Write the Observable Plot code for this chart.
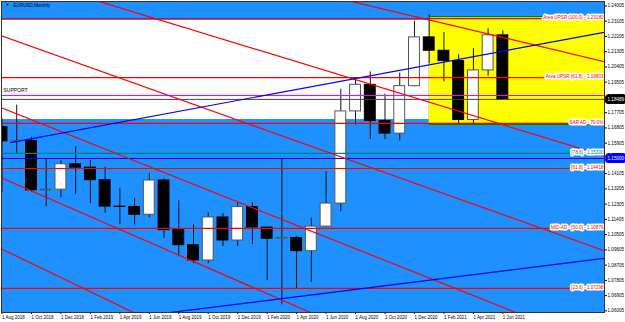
<!DOCTYPE html>
<html><head><meta charset="utf-8">
<script src="https://cdn.jsdelivr.net/npm/d3@7"></script>
<script src="https://cdn.jsdelivr.net/npm/@observablehq/plot@0.6"></script>
<style>
html,body{margin:0;padding:0;background:#fff;}
svg{display:block;}
</style></head><body><div id="chart"></div>
<script>
// ---- data (EURUSD monthly, Aug 2018 .. Jun 2021) ----
const months = ["Aug 2018","Sep 2018","Oct 2018","Nov 2018","Dec 2018","Jan 2019","Feb 2019","Mar 2019","Apr 2019","May 2019","Jun 2019","Jul 2019","Aug 2019","Sep 2019","Oct 2019","Nov 2019","Dec 2019","Jan 2020","Feb 2020","Mar 2020","Apr 2020","May 2020","Jun 2020","Jul 2020","Aug 2020","Sep 2020","Oct 2020","Nov 2020","Dec 2020","Jan 2021","Feb 2021","Mar 2021","Apr 2021","May 2021","Jun 2021"];
const open  = [1.1685,1.1601,1.1604,1.1312,1.1316,1.1466,1.1446,1.1372,1.1216,1.1214,1.1168,1.1370,1.1077,1.0988,1.0898,1.1152,1.1016,1.1213,1.1092,1.1026,1.1031,1.0953,1.1098,1.1234,1.1778,1.1935,1.1721,1.1647,1.1927,1.2215,1.2136,1.2075,1.1727,1.2020,1.2227];
const high  = [1.1733,1.1815,1.1625,1.1500,1.1486,1.1570,1.1488,1.1448,1.1324,1.1265,1.1412,1.1380,1.1250,1.1109,1.1179,1.1175,1.1239,1.1239,1.1095,1.1495,1.1040,1.1147,1.1422,1.1909,1.1966,1.2011,1.1881,1.2004,1.2310,1.2349,1.2243,1.2113,1.2150,1.2266,1.2254];
const low   = [1.1301,1.1526,1.1302,1.1216,1.1268,1.1289,1.1234,1.1176,1.1110,1.1107,1.1150,1.1027,1.0927,1.0879,1.0879,1.0981,1.0981,1.0992,1.0778,1.0636,1.0727,1.0767,1.1093,1.1185,1.1696,1.1612,1.1612,1.1603,1.1924,1.2058,1.1952,1.1704,1.1704,1.1986,1.1845];
const close = [1.1601,1.1604,1.1312,1.1316,1.1466,1.1446,1.1372,1.1216,1.1214,1.1168,1.1370,1.1077,1.0988,1.0898,1.1152,1.1016,1.1213,1.1092,1.1026,1.1031,1.0953,1.1098,1.1234,1.1778,1.1935,1.1721,1.1647,1.1927,1.2215,1.2136,1.2075,1.1727,1.2020,1.2227,1.18489];

const xTickLabels = ["1 Aug 2018","1 Oct 2018","1 Dec 2018","1 Feb 2019","1 Apr 2019","1 Jun 2019","1 Aug 2019","1 Oct 2019","1 Dec 2019","1 Feb 2020","1 Apr 2020","1 Jun 2020","1 Aug 2020","1 Oct 2020","1 Dec 2020","1 Feb 2021","1 Apr 2021","1 Jun 2021"];
const yTickValues = [1.24005,1.23105,1.22205,1.21305,1.20405,1.19505,1.17705,1.16805,1.15905,1.14105,1.13205,1.12305,1.11405,1.10505,1.09605,1.08705,1.07805,1.06905,1.06005];

const title = "EURUSD,Monthly";
const currentPrice = 1.18489;
const roundLevel = 1.15000;

// horizontal levels
const levelPrices = [1.2326, 1.1978, 1.1872, 1.1707, 1.1530, 1.1441, 1.1087, 1.0733];
const levelLabels = ["Area UPSR (100.0) - 1.23180", "Area UPSR (61.8) - 1.19803", "", "SAR AD - 70.0%", "[78.6] - 1.15300", "[61.8] - 1.14418", "MID-AD - [50.0] - 1.10876", "[23.6] - 1.07298"];
const supportLabel = "SUPPORT";

// zones (month index from/to, price from/to)
const whiteZone  = {i1: -1, i2: 29, p1: 1.1730, p2: 1.2315};
const yellowZone = {i1: 29, i2: 42, p1: 1.1701, p2: 1.2338};

// trend lines: two anchor points (month index, price)
const redTrends = [
  [24.0, 1.2421, 40.84, 1.2073],
  [27.05, 1.1884, 40.84, 1.1518],
  [-0.1, 1.1801, 32.83, 1.0662],
  [-0.1, 1.2226, 40.84, 1.0957],
  [-0.1, 1.1388, 20.94, 1.0591],
  [-0.1, 1.0969, 8.93, 1.0591]
];
const blueTrends = [
  [0.58, 1.1594, 40.84, 1.2244],
  [16.87, 1.0650, 40.84, 1.0910]
];

// ---- build ----
const X0 = -0.034, X1 = 40.9;
const candles = months.map((m, i) => ({i, o: open[i], h: high[i], l: low[i], c: close[i], up: close[i] >= open[i]}));
function ray(t, fromStart) {
  const [a, pa, b, pb] = t;
  const s = (pb - pa) / (b - a);
  const s0 = fromStart ? a : X0 - 1;
  return [{i: s0, p: pa + s * (s0 - a)}, {i: X1 + 1, p: pa + s * (X1 + 1 - a)}];
}
const font = "Liberation Sans, Arial, sans-serif";
const levelColors = ["#FF0000","#FF0000","#FF00FF","#FF0000","#008080","#FF0000","#FF0000","#FF0000"];
const levels = levelPrices.map((p, k) => ({p, label: levelLabels[k], color: levelColors[k]}));

const chart = Plot.plot({
  width: 625, height: 322,
  marginLeft: 1, marginRight: 21, marginTop: 1, marginBottom: 10,
  x: {domain: [X0, X1], axis: null},
  y: {domain: [1.05909, 1.24268], axis: null},
  style: {background: "white", fontFamily: font},
  marks: [
    Plot.frame({fill: "#1E90FF"}),
    Plot.rect([whiteZone], {x1: "i1", x2: "i2", y1: "p1", y2: "p2", fill: "white", clip: true}),
    Plot.rect([yellowZone], {x1: "i1", x2: "i2", y1: "p1", y2: "p2", fill: "#FFFF00", clip: true}),
    Plot.ruleY([yellowZone.p1, yellowZone.p2], {x1: yellowZone.i1, x2: X1, stroke: "#008000", strokeWidth: 1.2}),
    // candles
    Plot.ruleX(candles, {x: "i", y1: "l", y2: "h", stroke: "#111", strokeWidth: 1, clip: true}),
    Plot.rect(candles, {x1: d => d.i - 0.37, x2: d => d.i + 0.37, y1: d => Math.min(d.o, d.c), y2: d => Math.max(d.o, d.c),
      fill: d => d.up ? "white" : "black", stroke: d => d.up ? "#555" : "black", strokeWidth: 1, clip: true}),
    // horizontal levels
    Plot.ruleY(levels, {y: "p", stroke: "color", strokeWidth: 1.2}),
    Plot.ruleY([currentPrice], {stroke: "#444", strokeWidth: 1}),
    Plot.ruleY([roundLevel], {stroke: "#0000FF", strokeWidth: 1}),
    // trend lines
    ...redTrends.map(t => Plot.line(ray(t, false), {x: "i", y: "p", stroke: "#FF0000", strokeWidth: 1.2, clip: true})),
    Plot.line(ray(blueTrends[0], true), {x: "i", y: "p", stroke: "#0000FF", strokeWidth: 1.2, clip: true}),
    Plot.line(ray(blueTrends[1], false), {x: "i", y: "p", stroke: "#0000FF", strokeWidth: 1.2, clip: true}),
    // level labels
    Plot.text(levels.filter(d => d.label), {x: X1, y: "p", text: "label", textAnchor: "end", dx: -1, dy: -1,
      fill: "color", stroke: "white", strokeWidth: 3, fontSize: 4.6, fontFamily: font}),
    Plot.text([supportLabel], {x: X0, y: levelPrices[2], text: d => d, textAnchor: "start", dx: 2, dy: -5,
      fill: "black", fontSize: 5, fontFamily: font}),
    // axes
    Plot.axisY({anchor: "right", ticks: yTickValues, tickFormat: d => d.toFixed(5), tickSize: 2, tickPadding: 1,
      fontSize: 4.6, fontFamily: font, color: "black"}),
    Plot.text([currentPrice], {x: X1, y: d => d, text: d => d.toFixed(5), textAnchor: "start", dx: 3,
      fill: "white", stroke: "black", strokeWidth: 6, fontSize: 4.6, fontFamily: font}),
    Plot.text([roundLevel], {x: X1, y: d => d, text: d => d.toFixed(5), textAnchor: "start", dx: 3,
      fill: "white", stroke: "#0000FF", strokeWidth: 6, fontSize: 4.6, fontFamily: font}),
    Plot.axisX({ticks: d3.range(0, 35, 2), tickFormat: i => xTickLabels[i / 2], tickSize: 2, tickPadding: 1,
      textAnchor: "start", dx: 0, fontSize: 4.5, fontFamily: font, color: "black"}),
    Plot.frame({stroke: "#333", strokeWidth: 1}),
    Plot.text([title], {frameAnchor: "top-left", dx: 12, dy: 2, text: d => d, fill: "black", fontSize: 4.6, fontFamily: font}),
    Plot.text(["▼"], {frameAnchor: "top-left", dx: 4, dy: 2, text: d => d, fill: "black", fontSize: 4, fontFamily: font})
  ]
});
document.getElementById("chart").appendChild(chart);
</script></body></html>
